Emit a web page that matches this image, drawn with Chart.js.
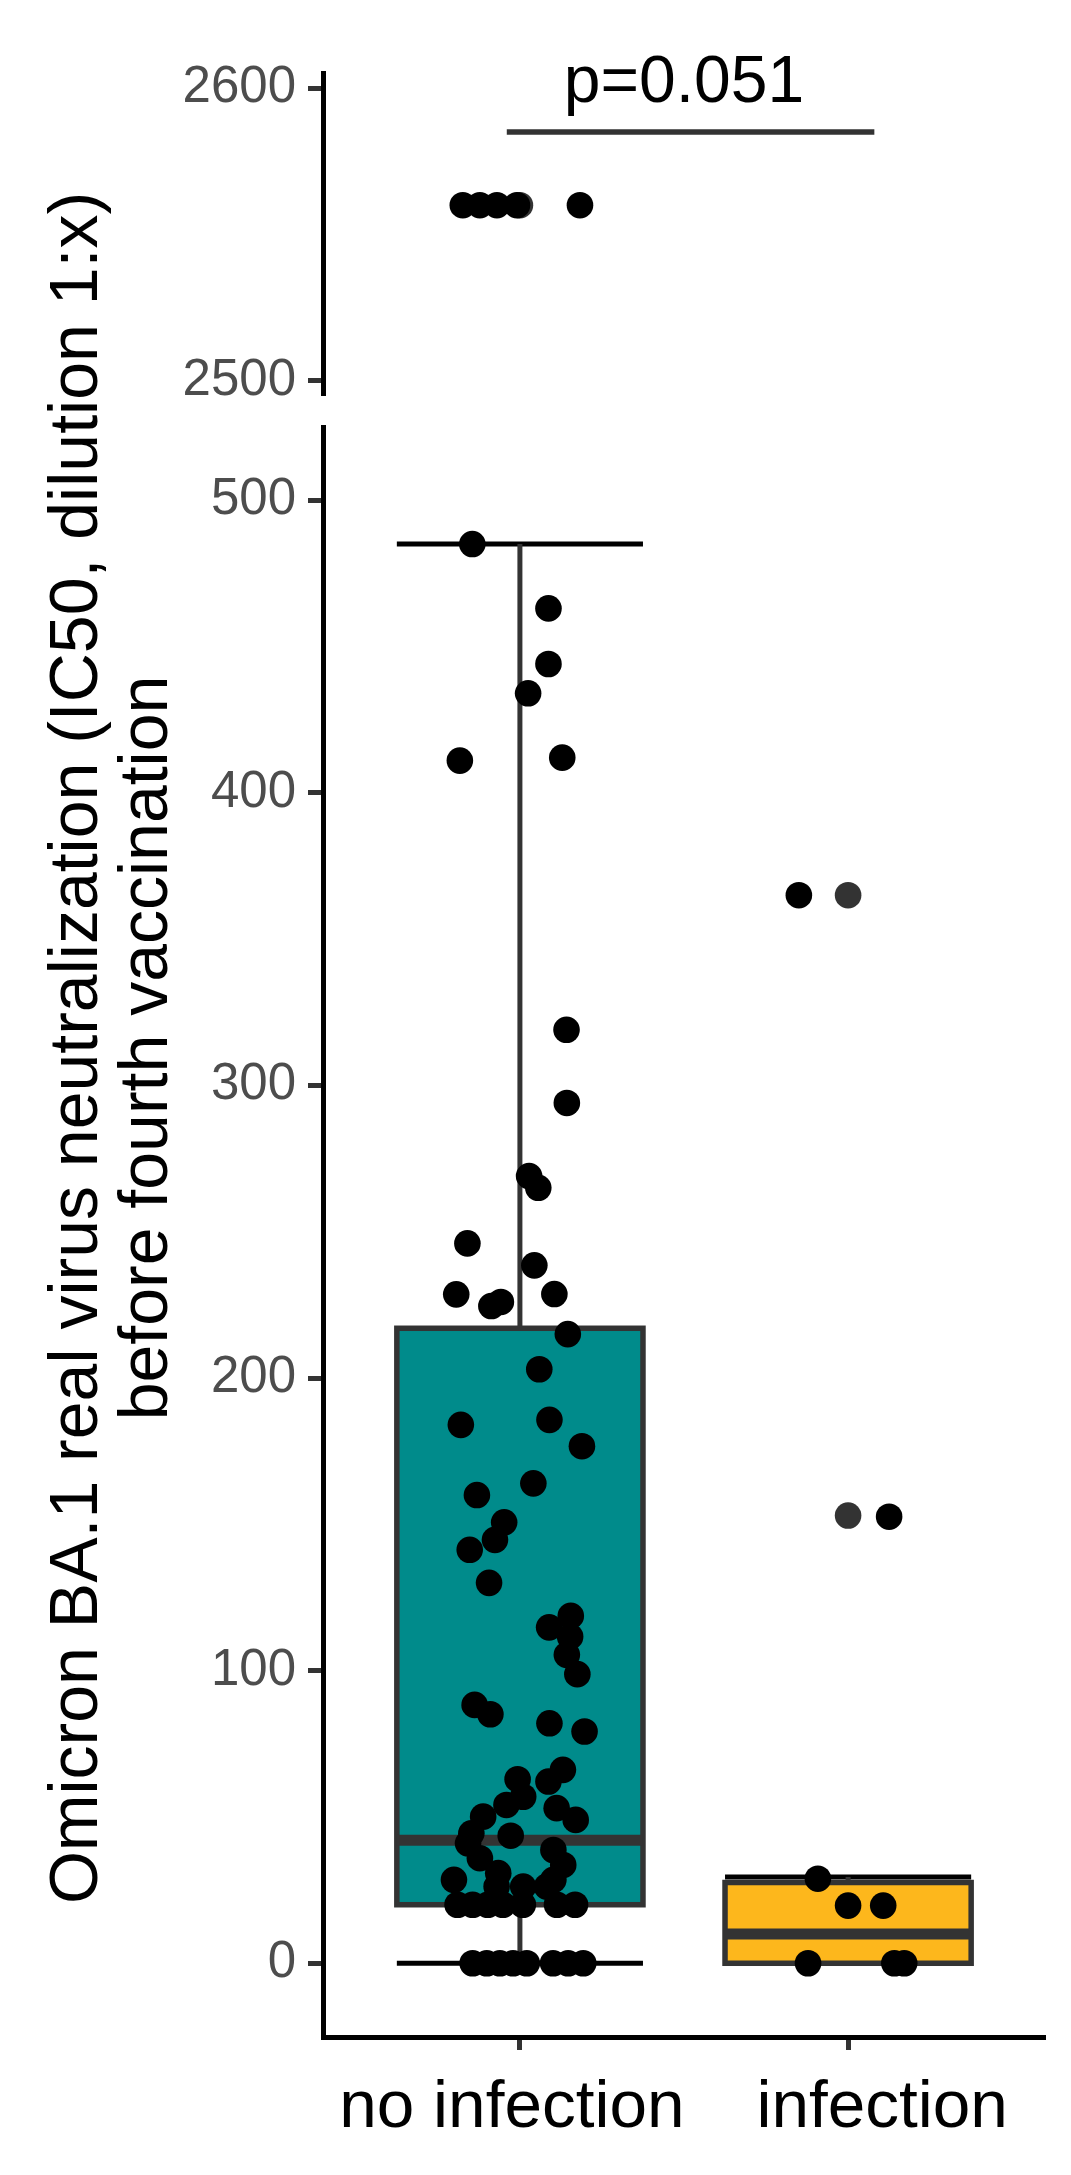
<!DOCTYPE html>
<html>
<head>
<meta charset="utf-8">
<script src="https://cdn.jsdelivr.net/npm/chart.js@4.4.1/dist/chart.umd.min.js"></script>
<style>
  html, body { margin: 0; padding: 0; background: #fff; }
  #wrap { position: relative; width: 1071px; height: 2175px; }
  canvas { position: absolute; left: 0; top: 0; }
</style>
</head>
<body>
<div id="wrap">
  <canvas id="bottom-chart" width="1071" height="2175"></canvas>
  <canvas id="top-chart" width="1071" height="470"></canvas>
</div>
<script>
const FONT = '"Liberation Sans", Arial, Helvetica, sans-serif';

const categories = ["no infection", "infection"];
const yTitle = [
  "Omicron BA.1 real virus neutralization (IC50, dilution 1:x)",
  "before fourth vaccination",
];

// box statistics per group
const boxQ1 = [20, 0];
const boxMedian = [42, 10];
const boxQ3 = [217, 27.6];
const whiskerLow = [0, 0];
const whiskerHigh = [485, 29.5];
const boxColors = ["#008B8B", "#FDB71C"];

// jittered points (x in category units, y = IC50)
const noInfX = [
  0.855, 1.087, 1.087, 1.025, 0.817, 1.129, 1.142, 1.143, 1.028, 1.056,
  0.840, 1.044, 0.806, 0.913, 0.942, 1.105, 1.146, 1.059, 0.820, 1.090,
  1.189, 1.041, 0.869, 0.952, 0.924, 0.847, 0.906, 1.155, 1.089, 1.153,
  1.143, 1.175, 0.862, 0.910, 1.090, 1.197, 1.131, 1.087, 0.993, 1.010,
  0.959, 1.112, 1.170, 0.888, 0.852, 0.842, 0.972, 1.102, 0.878, 1.132,
  0.934, 0.799, 1.010, 1.102, 1.082, 0.929,
  0.810, 0.856, 0.902, 0.948, 1.009, 1.113, 1.168,
  0.856, 0.899, 0.939, 0.979, 1.021, 1.101, 1.147, 1.193,
];
const noInfY = [
  485, 463, 444, 434, 411, 412, 319, 294, 269, 265,
  246, 238.5, 228.6, 224.6, 226, 228.7, 215, 203, 184, 185.7,
  176.7, 164, 160, 150.7, 144.7, 141.3, 130, 118.7, 114.8, 111.6,
  105.4, 98.8, 88.3, 85.1, 82, 79.2, 66.1, 62.1, 62.9, 56.9,
  54.1, 53, 49, 50.1, 44.4, 41, 43.6, 38.7, 35.9, 33.6,
  30.8, 28.5, 26.2, 28.5, 26.2, 26.2,
  20, 20, 20, 20, 20, 20, 20,
  0, 0, 0, 0, 0, 0, 0, 0,
];
const infX = [1.850, 2.125, 1.908, 2.000, 2.107, 1.878, 2.141, 2.171];
const infY = [365, 152.6, 28.9, 19.7, 19.7, 0, 0, 0];

// boxplot outliers (drawn at the group centre)
const outlierX = [2, 2];
const outlierY = [365, 153];

// upper panel (axis break)
const topX = [0.826, 0.878, 0.930, 0.991, 1.183];
const topY = [2560, 2560, 2560, 2560, 2560];
const topOutlierX = [1];
const topOutlierY = [2560];

const lowerTicks = [0, 100, 200, 300, 400, 500];
const topTicks = [2500, 2600];

const pValueText = "p=0.051";
const bracketX = [0.96, 2.08];
const bracketY = 2585;

// the category labels sit a little off their ticks in the original
const labelShift = [-8, 34];

function pts(xs, ys) {
  return xs.map((x, i) => ({ x: x, y: ys[i] }));
}

function yAxis(min, max, ticks) {
  return {
    type: "linear",
    min: min,
    max: max,
    bounds: "data",
    afterBuildTicks: (s) => { s.ticks = ticks.map((v) => ({ value: v })); },
    afterFit: (s) => { s.width = 323; },
    border: { display: true, color: "#000", width: 5 },
    grid: { drawOnChartArea: false, drawTicks: true, tickLength: 15, tickWidth: 5, tickColor: "#333" },
    ticks: { color: "#4D4D4D", font: { family: FONT, size: 51 }, padding: 12, callback: (v) => String(v) },
  };
}

function pointSet(data, color) {
  return {
    data: data,
    backgroundColor: color,
    borderWidth: 0,
    pointRadius: 13.3,
    pointHoverRadius: 13.3,
    pointBorderWidth: 0,
  };
}

const boxPlugin = {
  id: "boxes",
  beforeDatasetsDraw(chart) {
    const { ctx, scales: { x, y } } = chart;
    const half = 0.375;
    ctx.save();
    ctx.lineCap = "butt";
    ctx.lineJoin = "miter";
    const seg = (x1, y1, x2, y2) => {
      ctx.beginPath();
      ctx.moveTo(x1, y1);
      ctx.lineTo(x2, y2);
      ctx.stroke();
    };
    categories.forEach((c, i) => {
      const l = x.getPixelForValue(i + 1 - half);
      const r = x.getPixelForValue(i + 1 + half);
      const m = x.getPixelForValue(i + 1);
      const yLo = y.getPixelForValue(whiskerLow[i]);
      const yHi = y.getPixelForValue(whiskerHigh[i]);
      const y1 = y.getPixelForValue(boxQ1[i]);
      const y3 = y.getPixelForValue(boxQ3[i]);
      const ym = y.getPixelForValue(boxMedian[i]);
      // error bar caps
      ctx.strokeStyle = "#000";
      ctx.lineWidth = 5;
      seg(l, yLo, r, yLo);
      seg(l, yHi, r, yHi);
      // whiskers
      ctx.strokeStyle = "#333";
      ctx.lineWidth = 5;
      seg(m, yHi, m, y3);
      seg(m, y1, m, yLo);
      // box
      ctx.fillStyle = boxColors[i];
      ctx.fillRect(l, y3, r - l, y1 - y3);
      ctx.lineWidth = 5.5;
      ctx.strokeRect(l, y3, r - l, y1 - y3);
      // median
      ctx.lineWidth = 11;
      seg(l, ym, r, ym);
    });
    ctx.restore();
  },
};

const labelPlugin = {
  id: "texts",
  afterDraw(chart) {
    const { ctx, chartArea, scales: { x } } = chart;
    ctx.save();
    ctx.fillStyle = "#000";
    // category labels under the x ticks
    ctx.font = "67.5px " + FONT;
    ctx.textAlign = "center";
    ctx.textBaseline = "alphabetic";
    categories.forEach((c, i) => {
      ctx.fillText(c, x.getPixelForValue(i + 1) + labelShift[i], chartArea.bottom + 90);
    });
    // y axis title, centred over both panels
    ctx.translate(78, 1048);
    ctx.rotate(-Math.PI / 2);
    ctx.font = "68px " + FONT;
    ctx.textBaseline = "middle";
    yTitle.forEach((t, i) => ctx.fillText(t, 0, i * 70));
    ctx.restore();
  },
};

const bracketPlugin = {
  id: "bracket",
  afterDraw(chart) {
    const { ctx, scales: { x, y } } = chart;
    const py = y.getPixelForValue(bracketY);
    ctx.save();
    ctx.strokeStyle = "#333";
    ctx.lineWidth = 5.5;
    ctx.beginPath();
    ctx.moveTo(x.getPixelForValue(bracketX[0]), py);
    ctx.lineTo(x.getPixelForValue(bracketX[1]), py);
    ctx.stroke();
    ctx.fillStyle = "#000";
    ctx.font = "66px " + FONT;
    ctx.textAlign = "center";
    ctx.textBaseline = "alphabetic";
    ctx.fillText(pValueText, x.getPixelForValue(1.5), py - 30);
    ctx.restore();
  },
};

const common = {
  responsive: false,
  animation: false,
  events: [],
  devicePixelRatio: 1,
  plugins: { legend: { display: false }, tooltip: { enabled: false } },
};

const topChart = new Chart(document.getElementById("top-chart"), {
  type: "scatter",
  data: {
    datasets: [
      pointSet(pts(topX, topY), "#000"),
      pointSet(pts(topOutlierX, topOutlierY), "#333"),
    ],
  },
  options: {
    ...common,
    layout: { padding: { top: 73, right: 26, bottom: 75, left: 0 } },
    scales: {
      x: { type: "linear", min: 0.4, max: 2.6, display: false },
      y: yAxis(2495.1, 2605.2, topTicks),
    },
  },
  plugins: [bracketPlugin],
});

const bottomChart = new Chart(document.getElementById("bottom-chart"), {
  type: "scatter",
  data: {
    datasets: [
      pointSet(pts(noInfX, noInfY), "#000"),
      pointSet(pts(infX, infY), "#000"),
      pointSet(pts(outlierX, outlierY), "#333"),
    ],
  },
  options: {
    ...common,
    layout: { padding: { top: 427, right: 26, bottom: 0, left: 0 } },
    scales: {
      x: {
        type: "linear",
        min: 0.4,
        max: 2.6,
        bounds: "data",
        afterBuildTicks: (s) => { s.ticks = categories.map((c, i) => ({ value: i + 1 })); },
        afterFit: (s) => { s.height = 138; },
        border: { display: true, color: "#000", width: 5 },
        grid: { drawOnChartArea: false, drawTicks: true, tickLength: 13, tickWidth: 5, tickColor: "#333" },
        ticks: { display: false },
      },
      y: yAxis(-25.2, 525, lowerTicks),
    },
  },
  plugins: [boxPlugin, labelPlugin],
});
</script>
</body>
</html>
